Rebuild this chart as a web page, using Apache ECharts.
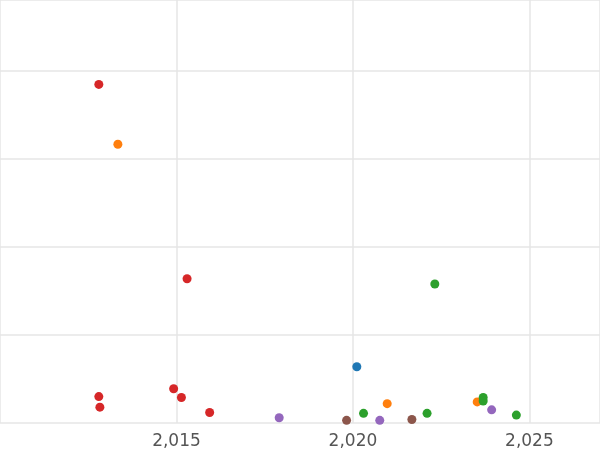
<!DOCTYPE html>
<html><head><meta charset="utf-8">
<script src="https://cdn.jsdelivr.net/npm/echarts@6/dist/echarts.min.js"></script>
<style>html,body{margin:0;padding:0;background:#fff}#main{width:600px;height:450px}</style>
</head><body><div id="main"></div>
<script>
var redPts = [[2012.80,3.85],[2015.30,1.64],[2012.80,0.30],[2012.83,0.18],[2014.92,0.39],[2015.14,0.29],[2015.94,0.12]];
var orangePts = [[2013.34,3.17],[2020.97,0.22],[2023.52,0.24]];
var greenPts = [[2022.32,1.58],[2020.30,0.11],[2022.10,0.11],[2023.69,0.29],[2023.69,0.25],[2024.63,0.09]];
var bluePts = [[2020.11,0.64]];
var purplePts = [[2017.91,0.06],[2020.76,0.03],[2023.93,0.15]];
var brownPts = [[2019.82,0.03],[2021.67,0.04]];

function ser(data, color){
	return {type:'scatter', data:data, symbolSize:9, itemStyle:{color:color, opacity:1}};
}

var myChart = echarts.init(document.getElementById('main'));
myChart.setOption({
	animation:false,
	// 2015 sits at x=156 and one year is about 37.2px
	grid:{left:-30,right:-2,top:0,bottom:22,containLabel:false},
	xAxis:{type:'value',min:2010,max:2027,interval:5,
		axisLine:{show:false},axisTick:{show:false},
		axisLabel:{color:'#555',fontSize:17,fontFamily:'DejaVu Sans',margin:10,
			showMinLabel:false,showMaxLabel:false},
		splitLine:{lineStyle:{color:'#e6e6e6',width:1.5}}},
	yAxis:{type:'value',min:0,max:4.81,interval:1,
		axisLine:{show:false},axisTick:{show:false},axisLabel:{show:false},
		splitLine:{lineStyle:{color:'#e6e6e6',width:1.5}}},
	series:[ser(redPts,'#d62728'),ser(orangePts,'#ff7f0e'),ser(greenPts,'#2ca02c'),
		ser(bluePts,'#1f77b4'),ser(purplePts,'#9467bd'),ser(brownPts,'#8c564b')]
});
</script></body></html>
